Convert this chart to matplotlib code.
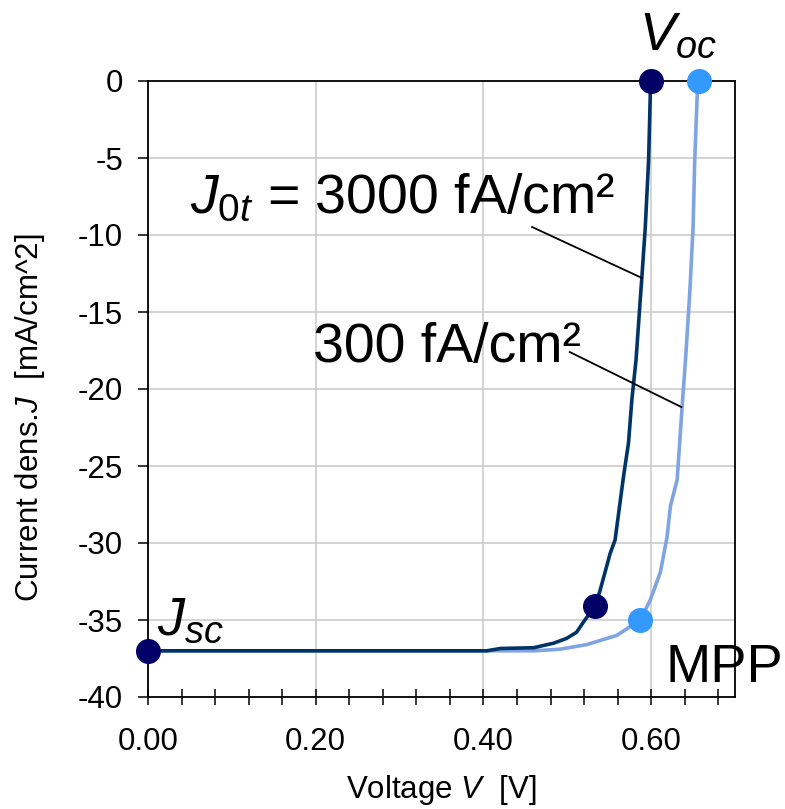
import matplotlib
matplotlib.use('Agg')
import matplotlib.pyplot as plt
from matplotlib.ticker import MultipleLocator

plt.rcParams['font.family'] = 'Liberation Sans'
plt.rcParams['mathtext.fontset'] = 'custom'
plt.rcParams['mathtext.rm'] = 'Liberation Sans'
plt.rcParams['mathtext.it'] = 'Liberation Sans:italic'
plt.rcParams['axes.unicode_minus'] = False

# Kennlinie J0t = 3000 fA/cm2
v_3000 = [0.0, 0.10, 0.20, 0.30, 0.40, 0.404, 0.42, 0.46, 0.484, 0.499, 0.511, 0.521,
          0.533, 0.539, 0.551, 0.557, 0.567, 0.573, 0.577, 0.582, 0.587, 0.589,
          0.593, 0.597, 0.599, 0.600]
j_3000 = [-37.0, -37.0, -37.0, -37.0, -37.0, -37.0, -36.85, -36.8, -36.5, -36.2, -35.8, -35.0,
          -34.1, -33.1, -30.7, -29.8, -25.7, -23.5, -20.7, -18.1, -14.2, -12.7,
          -9.5, -5.1, -0.8, 0.0]

# Kennlinie J0t = 300 fA/cm2
v_300 = [0.0, 0.10, 0.20, 0.30, 0.40, 0.46, 0.491, 0.523, 0.559, 0.587, 0.599, 0.611,
         0.619, 0.623, 0.631, 0.637, 0.641, 0.646, 0.650, 0.652, 0.655, 0.657]
j_300 = [-37.0, -37.0, -37.0, -37.0, -37.0, -37.0, -36.9, -36.6, -36.0, -35.0, -33.7, -31.9,
         -29.6, -27.6, -25.9, -21.1, -18.1, -13.8, -9.5, -5.1, -0.8, 0.0]

# markierte Punkte (Jsc, MPP, Voc)
pts_dark_v = [0.0, 0.533, 0.600]
pts_dark_j = [-37.0, -34.1, 0.0]
pts_light_v = [0.587, 0.657]
pts_light_j = [-35.0, 0.0]

yticks = [0, -5, -10, -15, -20, -25, -30, -35, -40]
xticks = [0.0, 0.2, 0.4, 0.6]
xticklabels = ['0.00', '0.20', '0.40', '0.60']

fig = plt.figure(figsize=(7.85, 8.09), dpi=100)
ax = fig.add_axes([148/785, 1 - 697/809, (735-148)/785, (697-81)/809])

ax.grid(True, color='#c8c8c8', linewidth=1.1)
ax.set_axisbelow(True)

ax.plot(v_300, j_300, color='#7fa3e3', linewidth=2.6, zorder=3)
ax.plot(v_3000, j_3000, color='#003366', linewidth=2.6, zorder=4)
ax.plot(pts_light_v, pts_light_j, 'o', color='#3399ff', markersize=17, clip_on=False, zorder=5)
ax.plot(pts_dark_v, pts_dark_j, 'o', color='#000066', markersize=17, clip_on=False, zorder=6)

ax.set_xlim(0, 0.70)
ax.set_ylim(-40, 0)
ax.set_xticks(xticks)
ax.set_xticklabels(xticklabels)
ax.xaxis.set_minor_locator(MultipleLocator(0.04))
ax.set_yticks(yticks)
ax.set_yticklabels([str(t) for t in yticks])

ax.tick_params(axis='x', which='both', direction='inout', length=11, width=1.1,
               labelsize=22.5, pad=16)
ax.tick_params(axis='y', direction='out', length=7, width=1.1, labelsize=22.5, pad=11)
for s in ax.spines.values():
    s.set_linewidth(1.3)
    s.set_color('black')

fig.text(441/785, 1 - 790/809, r'Voltage $\mathit{V}$  [V]', ha='center', va='center', fontsize=22.5)
fig.text(30/785, 1 - 418/809, r'Current dens.$\mathit{J}$  [mA/cm^2]', ha='center', va='center',
         rotation=90, fontsize=22.5)

# Beschriftungen im Diagramm
ax.text(0.050, -8.57, r'$J_{\mathit{0t}}$' + ' = 3000 fA/cm²', fontsize=40, va='baseline', zorder=7)
ax.text(0.197, -18.25, '300 fA/cm²', fontsize=40, va='baseline', zorder=7)
ax.text(0.585, 2.01, r'$V_{oc}$', fontsize=39, va='baseline', clip_on=False)
ax.text(0.011, -35.97, r'$J_{sc}$', fontsize=39, va='baseline', zorder=7)
ax.text(0.617, -39.03, 'MPP', fontsize=39, va='baseline', clip_on=False, zorder=7)

ax.plot([0.458, 0.589], [-9.48, -12.79], color='black', linewidth=1.3, zorder=4)
ax.plot([0.503, 0.636], [-17.6, -21.17], color='black', linewidth=1.3, zorder=4)

fig.savefig('out.png', dpi=100)
